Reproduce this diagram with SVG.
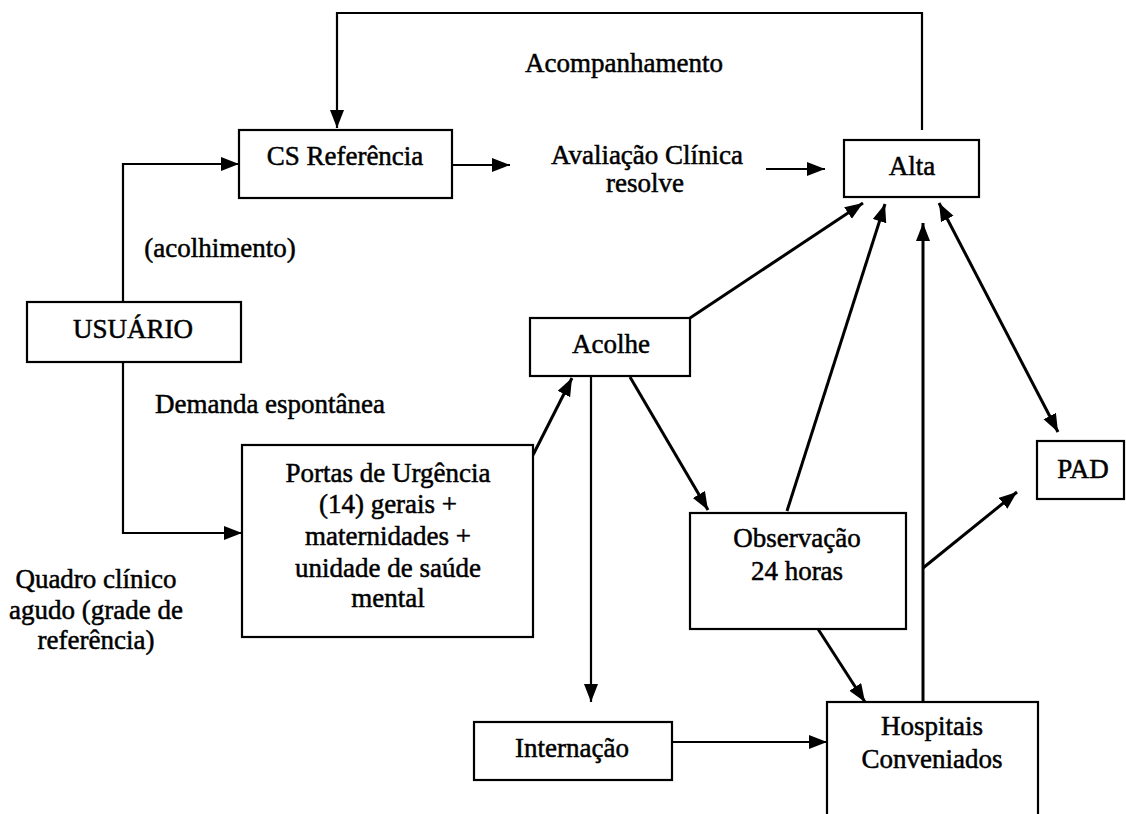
<svg xmlns="http://www.w3.org/2000/svg" width="1126" height="814" viewBox="0 0 1126 814">
<style>
.box{fill:#fff;stroke:#000;stroke-width:2.2}
.t{font-size:27px;fill:#000;text-anchor:middle;stroke:#000;stroke-width:0.5}
.c{fill:none;stroke:#000;stroke-width:2.2}
.c3{fill:none;stroke:#000;stroke-width:3}
</style>
<defs>
<marker id="ah" markerUnits="userSpaceOnUse" markerWidth="20" markerHeight="16" refX="18" refY="7" orient="auto-start-reverse" viewBox="0 0 20 16">
<path d="M0,0 L18,7 L0,14 z" fill="#000"/>
</marker>
</defs>
<rect width="1126" height="814" fill="#fff"/>
<g id="connectors">
<path class="c" d="M922,130 V13 H337 V128" marker-end="url(#ah)"/>
<path class="c" d="M123,302 V164 H239" marker-end="url(#ah)"/>
<path class="c" d="M123,362 V533 H242" marker-end="url(#ah)"/>
<path class="c" d="M452,165 H510" marker-end="url(#ah)"/>
<path class="c" d="M766,169 H825" marker-end="url(#ah)"/>
<path class="c3" d="M533,455 L572,378" marker-end="url(#ah)"/>
<path class="c" d="M591,377 L591,702" stroke-width="4" marker-end="url(#ah)"/>
<path class="c3" d="M630,377 L708,510" marker-end="url(#ah)"/>
<path class="c3" d="M690,318 L863,203" marker-end="url(#ah)"/>
<path class="c3" d="M787,511 L885,204" marker-end="url(#ah)"/>
<path class="c3" d="M923,702 L923,223" marker-end="url(#ah)"/>
<path class="c3" d="M939,203 L1058,432" marker-start="url(#ah)" marker-end="url(#ah)"/>
<path class="c3" d="M923,568 L1017,492" marker-end="url(#ah)"/>
<path class="c3" d="M818,629 L865,702" marker-end="url(#ah)"/>
<path class="c" d="M672,742 L827,742" marker-end="url(#ah)"/>
</g>
<g id="cs-referencia">
<rect class="box" x="239" y="130" width="213" height="68"/>
<text class="t" font-family="Liberation Serif" x="345" y="165">CS Referência</text>
</g>
<g id="alta">
<rect class="box" x="844" y="140" width="135" height="57"/>
<text class="t" font-family="Liberation Serif" x="912" y="175">Alta</text>
</g>
<g id="usuario">
<rect class="box" x="27" y="302" width="214" height="60"/>
<text class="t" font-family="Liberation Serif" x="133" y="338">USUÁRIO</text>
</g>
<g id="acolhe">
<rect class="box" x="530" y="318" width="160" height="58"/>
<text class="t" font-family="Liberation Serif" x="611" y="353">Acolhe</text>
</g>
<g id="portas">
<rect class="box" x="242" y="445" width="291" height="192"/>
<text class="t" font-family="Liberation Serif" x="388" y="482">Portas de Urgência</text>
<text class="t" font-family="Liberation Serif" x="388" y="513">(14) gerais +</text>
<text class="t" font-family="Liberation Serif" x="388" y="545">maternidades +</text>
<text class="t" font-family="Liberation Serif" x="388" y="577">unidade de saúde</text>
<text class="t" font-family="Liberation Serif" x="388" y="607">mental</text>
</g>
<g id="observacao">
<rect class="box" x="690" y="513" width="216" height="116"/>
<text class="t" font-family="Liberation Serif" x="797" y="547">Observação</text>
<text class="t" font-family="Liberation Serif" x="797" y="580">24 horas</text>
</g>
<g id="pad">
<rect class="box" x="1037" y="441" width="87" height="58"/>
<text class="t" font-family="Liberation Serif" x="1083" y="478">PAD</text>
</g>
<g id="internacao">
<rect class="box" x="474" y="722" width="198" height="58"/>
<text class="t" font-family="Liberation Serif" x="572" y="757">Internação</text>
</g>
<g id="hospitais">
<rect class="box" x="827" y="702" width="211" height="130"/>
<text class="t" font-family="Liberation Serif" x="932" y="735">Hospitais</text>
<text class="t" font-family="Liberation Serif" x="932" y="768">Conveniados</text>
</g>
<g id="labels">
<text class="t" font-family="Liberation Serif" x="624" y="72">Acompanhamento</text>
<text class="t" font-family="Liberation Serif" x="647" y="164">Avaliação Clínica</text>
<text class="t" font-family="Liberation Serif" x="645" y="192">resolve</text>
<text class="t" font-family="Liberation Serif" x="220" y="257">(acolhimento)</text>
<text class="t" font-family="Liberation Serif" x="270" y="413">Demanda espontânea</text>
<text class="t" font-family="Liberation Serif" x="96" y="588">Quadro clínico</text>
<text class="t" font-family="Liberation Serif" x="96" y="619">agudo (grade de</text>
<text class="t" font-family="Liberation Serif" x="96" y="649">referência)</text>
</g>
</svg>
